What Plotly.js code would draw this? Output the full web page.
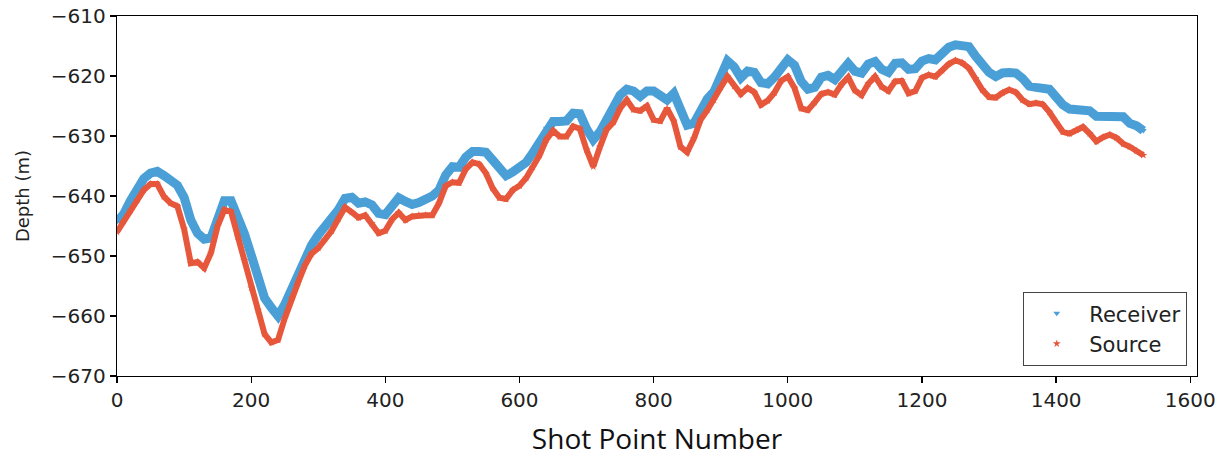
<!DOCTYPE html>
<html>
<head>
<meta charset="utf-8">
<script src="https://cdn.plot.ly/plotly-3.0.1.min.js"></script>
<style>
  html, body { margin: 0; padding: 0; background: #ffffff; }
  #chart { width: 1225px; height: 459px; }
</style>
</head>
<body>
<div id="chart"></div>
<script>
// Shot point numbers (sampled every 10 shots)
const shotPoints = [
  0,10,20,30,40,50,60,70,80,90,100,110,120,130,140,150,160,170,180,190,
  200,210,220,230,240,250,260,270,280,290,300,310,320,330,340,350,360,370,380,390,
  400,410,420,430,440,450,460,470,480,490,500,510,520,530,540,550,560,570,580,590,
  600,610,620,630,640,650,660,670,680,690,700,710,720,730,740,750,760,770,780,790,
  800,810,820,830,840,850,860,870,880,890,900,910,920,930,940,950,960,970,980,990,
  1000,1010,1020,1030,1040,1050,1060,1070,1080,1090,1100,1110,1120,1130,1140,1150,1160,1170,1180,1190,
  1200,1210,1220,1230,1240,1250,1260,1270,1280,1290,1300,1310,1320,1330,1340,1350,1360,1370,1380,1390,
  1400,1410,1420,1430,1440,1450,1460,1470,1480,1490,1500,1510,1520,1530
];

// Receiver depth (m)
const receiverDepth = [
  -644.3,-643.0,-640.8,-638.8,-637.1,-636.2,-635.9,-636.6,-637.3,-638.2,
  -640.2,-644.0,-646.2,-647.2,-647.0,-643.8,-640.8,-640.8,-643.2,-646.3,
  -649.8,-653.8,-657.0,-658.6,-660.0,-658.1,-655.5,-652.8,-650.4,-648.2,
  -646.5,-645.2,-644.0,-642.3,-640.4,-640.2,-641.2,-641.0,-641.5,-642.9,
  -643.1,-641.6,-640.3,-640.9,-641.4,-641.1,-640.6,-640.0,-639.0,-636.5,
  -635.1,-635.2,-633.5,-632.6,-632.6,-632.7,-634.0,-635.6,-636.6,-636.0,
  -635.3,-634.4,-632.8,-631.0,-628.7,-627.6,-627.6,-627.5,-626.2,-626.3,
  -628.8,-630.6,-629.3,-627.1,-625.2,-623.2,-622.2,-622.5,-623.4,-622.5,
  -622.5,-623.4,-624.0,-622.9,-626.0,-628.2,-627.9,-625.8,-623.8,-622.6,
  -620.0,-617.5,-618.5,-620.3,-619.2,-619.4,-621.1,-621.3,-620.2,-618.5,
  -617.3,-618.2,-620.9,-622.2,-621.9,-620.2,-619.9,-620.6,-619.3,-617.9,
  -619.2,-619.5,-618.0,-617.6,-618.9,-619.4,-617.9,-617.8,-618.9,-618.8,
  -617.5,-617.1,-617.3,-616.3,-615.2,-614.8,-614.8,-615.1,-616.7,-618.0,
  -619.4,-620.1,-619.5,-619.4,-619.5,-620.4,-621.7,-621.9,-621.9,-622.2,
  -623.5,-624.8,-625.5,-625.5,-625.5,-625.8,-626.7,-626.7,-626.7,-626.7,
  -626.8,-627.9,-628.3,-629.1
];

// Source depth (m)
const sourceDepth = [
  -646.0,-644.2,-642.4,-640.7,-639.0,-638.0,-638.0,-640.1,-641.2,-641.7,
  -645.5,-651.2,-651.0,-652.0,-649.5,-645.0,-642.3,-642.6,-646.8,-650.7,
  -655.3,-659.0,-663.0,-664.4,-664.0,-660.4,-657.0,-654.4,-651.6,-649.6,
  -648.7,-647.2,-645.8,-643.8,-641.9,-642.7,-643.6,-643.2,-644.6,-646.2,
  -645.8,-643.9,-642.8,-644.0,-643.4,-643.2,-643.2,-643.2,-641.2,-638.3,
  -637.7,-637.8,-635.5,-634.4,-634.7,-636.2,-638.7,-640.3,-640.5,-639.0,
  -638.3,-637.0,-635.2,-633.2,-630.6,-629.1,-630.1,-630.1,-628.4,-628.8,
  -632.3,-635.1,-631.8,-628.9,-627.7,-625.4,-624.0,-625.6,-625.8,-625.0,
  -627.3,-627.5,-625.4,-627.5,-631.8,-632.7,-630.4,-627.3,-625.7,-624.0,
  -621.9,-620.1,-621.7,-623.0,-622.0,-622.7,-624.8,-624.1,-622.8,-620.8,
  -620.1,-622.0,-625.4,-625.7,-624.4,-623.0,-622.7,-623.1,-621.4,-620.2,
  -622.4,-623.2,-621.3,-620.1,-621.8,-622.5,-620.9,-620.8,-622.9,-622.5,
  -620.3,-619.8,-620.1,-619.1,-618.0,-617.4,-617.8,-618.7,-620.4,-622.3,
  -623.5,-623.6,-622.8,-622.3,-622.7,-624.0,-624.7,-624.5,-624.7,-626.0,
  -627.7,-629.3,-629.6,-629.0,-628.5,-629.6,-630.9,-630.2,-629.8,-630.3,
  -631.3,-631.8,-632.5,-633.2
];

const seriesNames = ['Receiver', 'Source'];
const blue = '#4a9fd6';
const red = '#e6573b';

const traces = [
  // dense marker bands drawn as thick strokes
  { x: shotPoints, y: receiverDepth, mode: 'lines', line: { color: blue, width: 9 },
    showlegend: false, hoverinfo: 'skip' },
  { x: shotPoints, y: receiverDepth, mode: 'markers', name: seriesNames[0],
    marker: { symbol: 'triangle-down', color: blue, size: 6 } },
  { x: shotPoints, y: sourceDepth, mode: 'lines', line: { color: red, width: 6 },
    showlegend: false, hoverinfo: 'skip' },
  { x: shotPoints, y: sourceDepth, mode: 'markers', name: seriesNames[1],
    marker: { symbol: 'star', color: red, size: 6 } }
];

const tickFont = { family: 'DejaVu Sans, sans-serif', size: 20, color: '#222' };

const layout = {
  width: 1225,
  height: 459,
  margin: { l: 116.5, r: 28, t: 16, b: 83, pad: 0 },
  paper_bgcolor: '#ffffff',
  plot_bgcolor: '#ffffff',
  showlegend: true,
  xaxis: {
    range: [0, 1610],
    tickmode: 'array',
    tickvals: [0, 200, 400, 600, 800, 1000, 1200, 1400, 1600],
    ticks: 'outside', ticklen: 6, tickwidth: 1.3, tickcolor: '#000',
    showline: true, linecolor: '#000', linewidth: 1.3, mirror: true,
    showgrid: false, zeroline: false,
    tickfont: tickFont,
    title: { text: 'Shot Point Number', font: { family: 'Open Sans, sans-serif', size: 28, color: '#111' }, standoff: 18 }
  },
  yaxis: {
    range: [-670, -610],
    tickmode: 'array',
    tickvals: [-670, -660, -650, -640, -630, -620, -610],
    ticks: 'outside', ticklen: 6, tickwidth: 1.3, tickcolor: '#000',
    showline: true, linecolor: '#000', linewidth: 1.3, mirror: true,
    showgrid: false, zeroline: false,
    tickfont: tickFont,
    title: { text: 'Depth (m)', font: { family: 'DejaVu Sans, sans-serif', size: 18, color: '#222' }, standoff: 16 }
  },
  legend: {
    x: 0.9907, y: 0.028, xanchor: 'right', yanchor: 'bottom',
    bgcolor: '#ffffff', bordercolor: '#444', borderwidth: 1.3,
    font: { family: 'DejaVu Sans, sans-serif', size: 21, color: '#222' },
    itemwidth: 55
  }
};

Plotly.newPlot('chart', traces, layout, { displayModeBar: false, staticPlot: true });
</script>
</body>
</html>
